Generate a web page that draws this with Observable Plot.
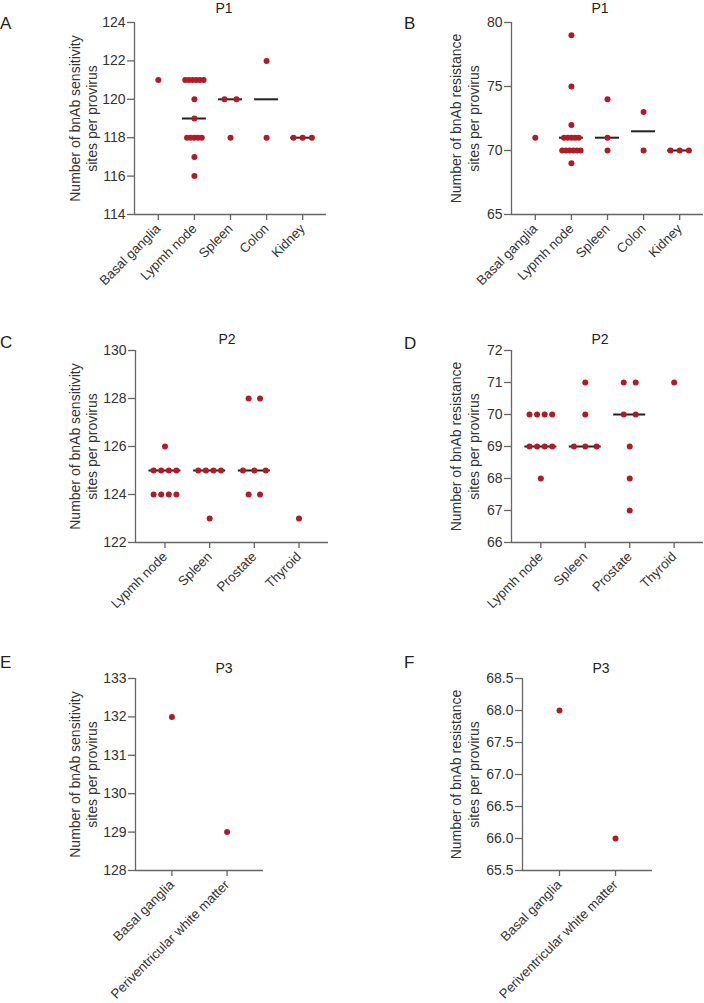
<!DOCTYPE html>
<html>
<head>
<meta charset="utf-8">
<script src="https://cdn.jsdelivr.net/npm/d3@7"></script>
<script src="https://cdn.jsdelivr.net/npm/@observablehq/plot@0.6"></script>
<style>
  html, body { margin: 0; padding: 0; background: #fff; }
  #root { position: relative; width: 704px; height: 1003px; overflow: hidden; font-family: "Liberation Sans", Arial, sans-serif; color: #333; }
  .pane { position: absolute; }
  .pane svg { overflow: visible; }
  .lbl { position: absolute; font-size: 17px; color: #222; line-height: 1; }
  .ttl { position: absolute; font-size: 14px; color: #222; line-height: 1; transform: translateX(-50%); }
</style>
</head>
<body>
<div id="root"></div>
<script>
// ---------------- data ----------------
const p1Tissues = ["Basal ganglia", "Lypmh node", "Spleen", "Colon", "Kidney"];
const p1Sensitivity = [
  [121],
  [121, 121, 121, 121, 121, 121, 120, 119, 118, 118, 118, 118, 118, 117, 116],
  [120, 120, 118],
  [122, 118],
  [118, 118, 118]
];
const p1Resistance = [
  [71],
  [79, 75, 72, 71, 71, 71, 71, 71, 70, 70, 70, 70, 70, 70, 69],
  [74, 71, 70],
  [73, 70],
  [70, 70, 70]
];
const p2Tissues = ["Lypmh node", "Spleen", "Prostate", "Thyroid"];
const p2Sensitivity = [
  [126, 125, 125, 125, 125, 124, 124, 124, 124],
  [125, 125, 125, 125, 123],
  [128, 128, 125, 125, 125, 124, 124],
  [123]
];
const p2Resistance = [
  [70, 70, 70, 70, 69, 69, 69, 69, 68],
  [71, 70, 69, 69, 69],
  [71, 71, 70, 70, 69, 68, 67],
  [71]
];
const p3Tissues = ["Basal ganglia", "Periventricular white matter"];
const p3Sensitivity = [[132], [129]];
const p3Resistance = [[68], [66]];

const sensLabel = ["Number of bnAb sensitivity", "sites per provirus"];
const resLabel = ["Number of bnAb resistance", "sites per provirus"];

const ticksA = [114, 116, 118, 120, 122, 124];
const ticksB = [65, 70, 75, 80];
const ticksC = [122, 124, 126, 128, 130];
const ticksD = [66, 67, 68, 69, 70, 71, 72];
const ticksE = [128, 129, 130, 131, 132, 133];
const ticksF = [65.5, 66, 66.5, 67, 67.5, 68, 68.5];

// ---------------- drawing ----------------
const FONT = '"Liberation Sans", Arial, sans-serif';
const DOT = "#b01c26";
const AXIS = "#666";
const PAD = 0.66;

function panel(cfg) {
  const {tissues, values, ticks, fmt, width, height, mL, mR, mT, mB, label, labelX} = cfg;
  const n = tissues.length;
  const frameW = width - mL - mR;
  const step = frameW / (n - 1 + 2 * PAD); // pixels per category
  const dots = [];
  const meds = [];
  values.forEach((vals, i) => {
    const groups = d3.rollup(vals, v => v.length, v => v);
    const kmax = d3.max(groups.values());
    const sPx = kmax > 1 ? Math.min(12, 0.51 * step / (kmax - 1)) : 0;
    const s = sPx / step;
    for (const [v, k] of groups) {
      for (let j = 0; j < k; j++) dots.push({x: i + (j - (k - 1) / 2) * s, y: v});
    }
    if (vals.length > 1) {
      const half = (step <= 38 ? 12 : 16) / step;
      meds.push({y: d3.median(vals), x1: i - half, x2: i + half});
    }
  });
  const yMin = ticks[0], yMax = ticks[ticks.length - 1];
  return Plot.plot({
    width, height,
    marginLeft: mL, marginRight: mR, marginTop: mT, marginBottom: mB,
    style: {fontFamily: FONT, fontSize: "13px", color: "#333", background: "transparent", overflow: "visible"},
    x: {type: "linear", domain: [-PAD, n - 1 + PAD]},
    y: {domain: [yMin, yMax]},
    marks: [
      Plot.ruleX([-PAD], {stroke: AXIS, strokeWidth: 1.3}),
      Plot.ruleY([yMin], {stroke: AXIS, strokeWidth: 1.3}),
      Plot.axisY({ticks, tickFormat: fmt, tickSize: 7, tickPadding: 2, stroke: AXIS, strokeWidth: 1.3, fontSize: 14, label: null}),
      Plot.axisX({ticks: d3.range(n), tickFormat: i => tissues[i], tickSize: 6, tickPadding: 6, tickRotate: -45, stroke: AXIS, strokeWidth: 1.3, fontSize: 13.3, label: null}),
      Plot.ruleY(meds, {y: "y", x1: "x1", x2: "x2", stroke: "#222", strokeWidth: 2}),
      Plot.dot(dots, {x: "x", y: "y", r: 3, fill: DOT, stroke: "none"}),
      Plot.text([label[0]], {frameAnchor: "left", textAnchor: "middle", dx: labelX[0] - mL, rotate: -90, fontSize: 14, fill: "#333"}),
      Plot.text([label[1]], {frameAnchor: "left", textAnchor: "middle", dx: labelX[1] - mL, rotate: -90, fontSize: 14, fill: "#333"})
    ]
  });
}

const root = document.getElementById("root");
function place(el, left, top) {
  const d = document.createElement("div");
  d.className = "pane";
  d.style.left = left + "px";
  d.style.top = top + "px";
  d.appendChild(el);
  root.appendChild(d);
}
function txt(cls, s, left, top) {
  const d = document.createElement("div");
  d.className = cls;
  d.textContent = s;
  d.style.left = left + "px";
  d.style.top = top + "px";
  root.appendChild(d);
}

const intFmt = d => String(d);
const oneFmt = d => d.toFixed(1);
const LX = [75, 92];       // left-column y-label line centres
const RX = [106, 124];     // right-column y-label line centres (local)

place(panel({tissues: p1Tissues, values: p1Sensitivity, ticks: ticksA, fmt: intFmt,
  width: 350, height: 300, mL: 134, mR: 24, mT: 22, mB: 86, label: sensLabel, labelX: LX}), 0, 0);
place(panel({tissues: p1Tissues, values: p1Resistance, ticks: ticksB, fmt: intFmt,
  width: 354, height: 300, mL: 161, mR: 1, mT: 22, mB: 86, label: resLabel, labelX: RX}), 350, 0);
place(panel({tissues: p2Tissues, values: p2Sensitivity, ticks: ticksC, fmt: intFmt,
  width: 350, height: 340, mL: 135, mR: 22, mT: 50, mB: 98, label: sensLabel, labelX: LX}), 0, 300);
place(panel({tissues: p2Tissues, values: p2Resistance, ticks: ticksD, fmt: intFmt,
  width: 354, height: 340, mL: 161, mR: 1, mT: 50, mB: 98, label: resLabel, labelX: RX}), 350, 300);
place(panel({tissues: p3Tissues, values: p3Sensitivity, ticks: ticksE, fmt: intFmt,
  width: 350, height: 363, mL: 135, mR: 87, mT: 38, mB: 133, label: sensLabel, labelX: LX}), 0, 640);
place(panel({tissues: p3Tissues, values: p3Resistance, ticks: ticksF, fmt: oneFmt,
  width: 354, height: 363, mL: 172, mR: 52, mT: 38, mB: 133, label: resLabel, labelX: RX}), 350, 640);

// panel letters and titles
txt("lbl", "A", 0, 15);
txt("lbl", "B", 404, 15);
txt("lbl", "C", 0, 334);
txt("lbl", "D", 404, 335);
txt("lbl", "E", 0, 654);
txt("lbl", "F", 404, 654);
txt("ttl", "P1", 224, 1);
txt("ttl", "P1", 600, 1);
txt("ttl", "P2", 227, 332);
txt("ttl", "P2", 600, 332);
txt("ttl", "P3", 224, 661);
txt("ttl", "P3", 601, 661);
</script>
</body>
</html>
